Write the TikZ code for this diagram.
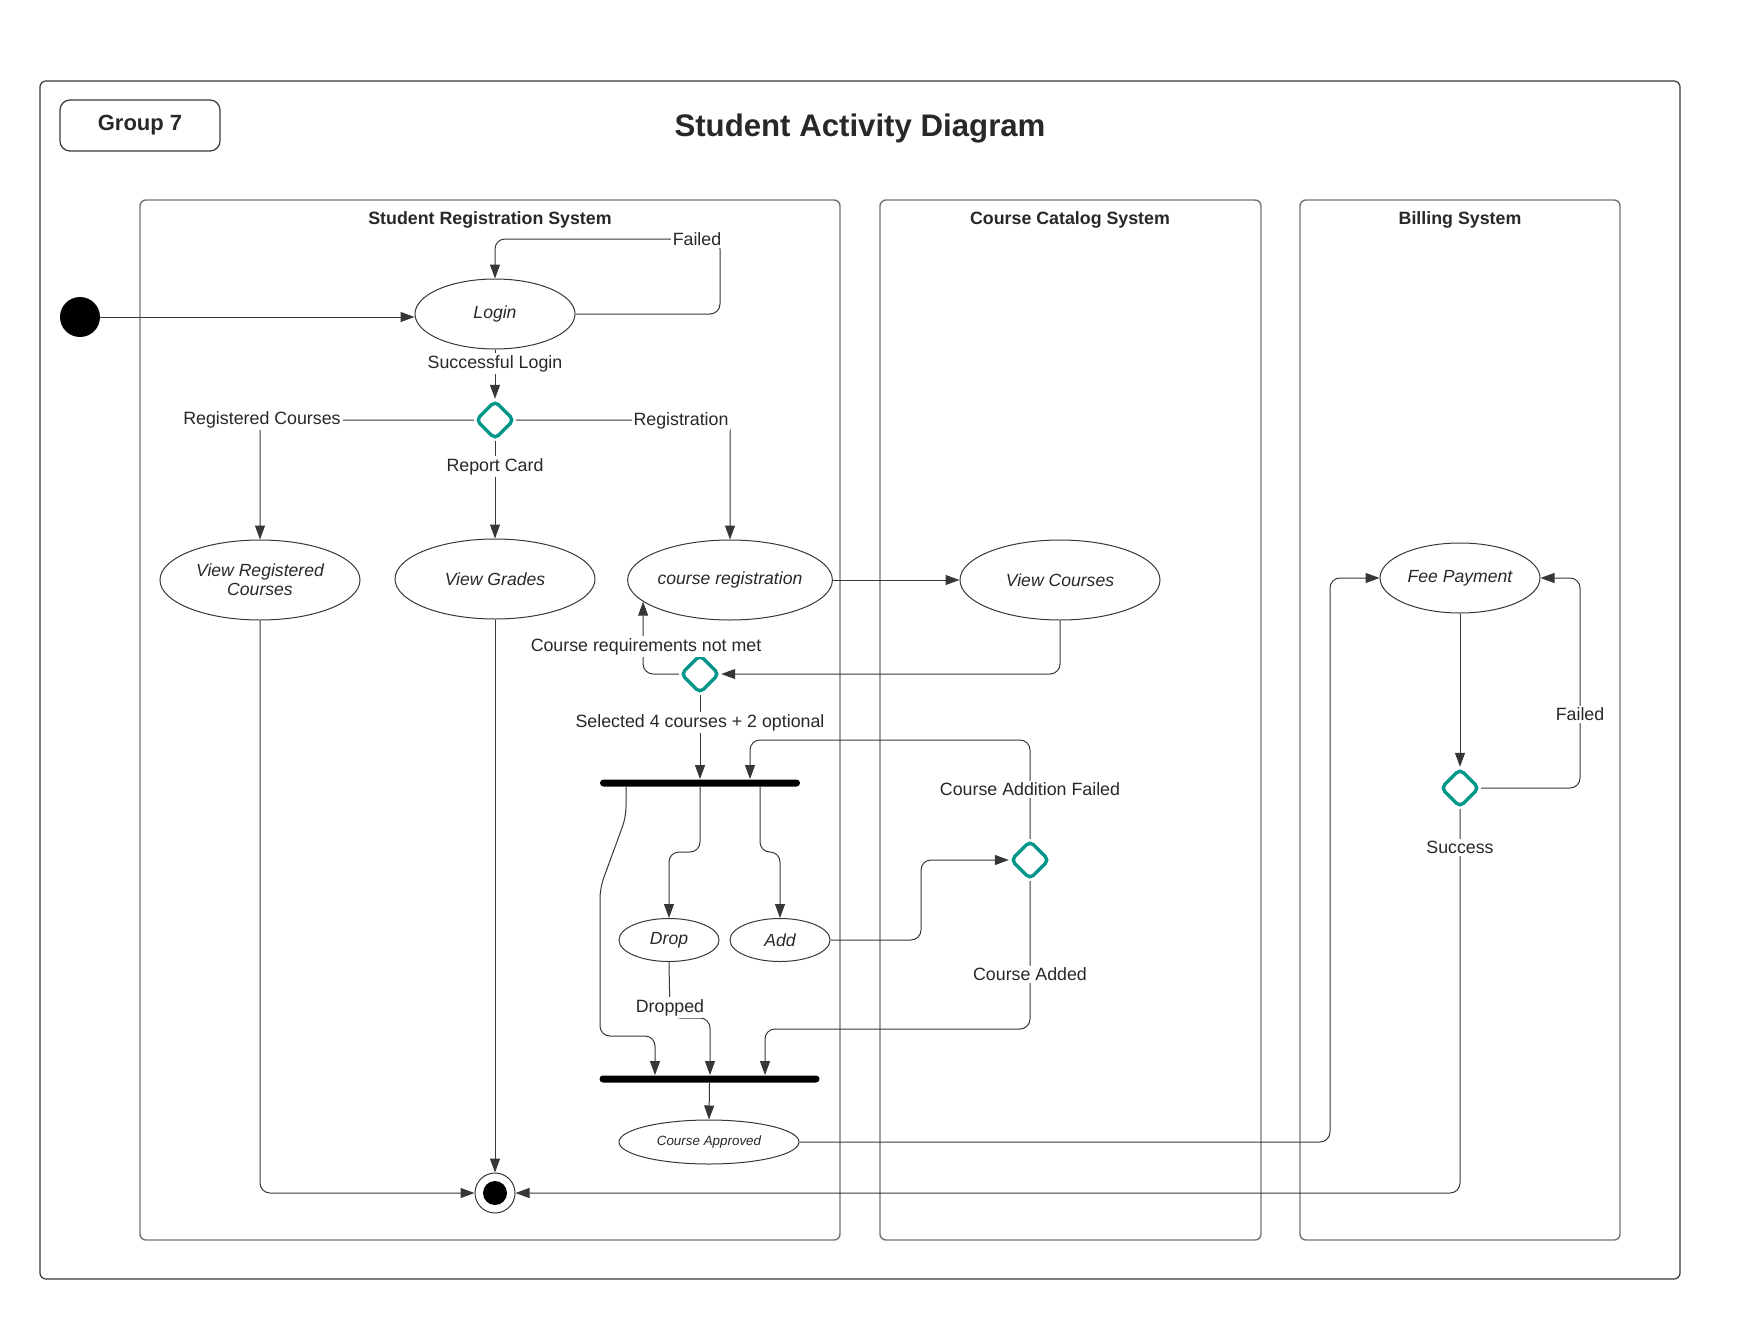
\documentclass[tikz,border=0pt]{standalone}
\usepackage{fontspec}
\setmainfont{Liberation Sans}
\usetikzlibrary{shapes.geometric,arrows.meta,calc}
\definecolor{teal1}{RGB}{0,150,136}
\definecolor{ink}{RGB}{55,55,55}
\definecolor{lanegray}{RGB}{115,115,115}
\definecolor{txt}{RGB}{40,40,40}
\begin{document}
\begin{tikzpicture}[x=0.5pt,y=-0.5pt,
  lane/.style={draw=lanegray,line width=0.7pt,rounded corners=3pt},
  lanetitle/.style={font=\fontsize{8.9}{11}\selectfont\bfseries,text=txt,yshift=-1.6pt},
  act/.style={ellipse,draw=ink,line width=0.5pt,inner sep=0pt,align=center,
    font=\fontsize{8.8}{10.5}\selectfont\itshape,text=txt},
  dec/.style={diamond,draw=teal1,line width=1.7pt,rounded corners=2.5pt,
    minimum size=19.5pt,inner sep=0pt,fill=white},
  bar/.style={rectangle,fill=black,rounded corners=1.75pt,minimum height=3.5pt,inner sep=0pt},
  lbl/.style={fill=white,inner sep=1pt,font=\fontsize{8.9}{10.5}\selectfont,text=txt,yshift=-1.2pt},
  flow/.style={draw=ink,line width=0.5pt,rounded corners=5pt,
    -{Triangle[length=7pt,width=5pt]}},
  link/.style={draw=ink,line width=0.5pt,rounded corners=5pt}]
\useasboundingbox (0,0) rectangle (1740,1333);
% frame
\draw[draw=ink,line width=0.6pt,rounded corners=3pt] (40,81) rectangle (1680,1279);
\node[draw=ink,line width=0.6pt,rounded corners=5pt,minimum width=80pt,minimum height=25.5pt,
  font=\fontsize{11}{13}\selectfont\bfseries,text=txt] (grp) at (140,125.5) {Group 7};
\node[font=\fontsize{15.6}{18}\selectfont\bfseries,text=txt,yshift=-2.2pt] (title) at (860,124) {Student Activity Diagram};
% lanes
\draw[lane] (140,200) rectangle (840,1240);
\draw[lane] (880,200) rectangle (1261,1240);
\draw[lane] (1300,200) rectangle (1620,1240);
\node[lanetitle] (t1) at (490,217) {Student Registration System};
\node[lanetitle] (t2) at (1070,217) {Course Catalog System};
\node[lanetitle] (t3) at (1460,217) {Billing System};
% nodes
\node[circle,fill=black,minimum size=20pt,inner sep=0pt] (init) at (80,317) {};
\node[act,minimum width=80pt,minimum height=35pt] (login) at (495,314) {Login};
\node[dec] (d1) at (495,420) {};
\node[act,minimum width=100pt,minimum height=40pt] (vrc) at (260,580) {View Registered\\[-1pt]Courses};
\node[act,minimum width=100pt,minimum height=40pt] (vg) at (495,579) {View Grades};
\node[act,minimum width=100pt,minimum height=40pt] (creg) at (730,580) {course registration};
\node[act,minimum width=100pt,minimum height=40pt] (vc) at (1060,580) {View Courses};
\node[act,minimum width=80pt,minimum height=35pt] (fee) at (1460,578) {Fee Payment};
\node[dec] (d2) at (700,674) {};
\node[bar,minimum width=100pt] (bar1) at (700,783) {};
\node[dec] (d3) at (1030,860) {};
\node[act,minimum width=50pt,minimum height=21.5pt] (drop) at (669,940) {\raisebox{2pt}{Drop}};
\node[act,minimum width=50pt,minimum height=21.5pt] (add) at (780,940) {Add};
\node[bar,minimum width=110pt] (bar2) at (709.5,1079) {};
\node[act,minimum width=90pt,minimum height=22pt,font=\fontsize{6.7}{8}\selectfont\itshape] (capp) at (709,1142) {Course Approved};
\node[dec] (d4) at (1460,788) {};
\node[circle,draw=ink,line width=0.5pt,fill=white,minimum size=20pt,inner sep=0pt,
  path picture={\fill[black] (path picture bounding box.center) circle (6pt);}] (fin) at (495,1193) {};
% connectors
\draw[flow] (init) -- (login.west |- init);
\coordinate (f1) at (720,239);
\draw[flow] (login.east) -| (f1) -| (login.north);
\draw[flow] (login) -- (d1);
\draw[flow] (d1.west) -| (vrc.north);
\draw[flow] (d1.south) -- (vg.north);
\draw[flow] (d1.east) -| (creg.north);
\draw[flow] (creg.east) -- (vc.west);
\draw[flow] (vc.south) |- (d2.east);
\draw[flow] (d2.west) -| (creg.194.7);
\draw[flow] (d2.south) -- (bar1.north);
\draw[flow] ($(bar1.south)+(0,0)$) -- (700,852) -| (drop.north);
\draw[flow] ($(bar1.south)+(60,0)$) -- (760,852) -| (add.north);
\draw[flow] ($(bar1.south)+(-74,0)$) -- (626,817) -- (600,888) -- (600,1036) -| ($(bar2.north)+(-54.5,0)$);
\draw[flow] (drop.south) -- (670,1018) -| ($(bar2.north)+(0.5,0)$);
\draw[flow] (add.east) -- (921,940) |- (d3.west);
\draw[flow] (d3.north) |- (750,740) -- ($(bar1.north)+(50,0)$);
\draw[flow] (d3.south) |- (765,1029) -- ($(bar2.north)+(55.5,0)$);
\draw[flow] (bar2.south) -- (capp.north);
\draw[flow] (capp.east) -- (1330,1142) |- (fee.west);
\draw[flow] (fee.south) -- (d4.north);
\draw[flow] (d4.east) -- (1580,788) |- (fee.east);
\draw[flow] (d4.south) |- (fin.east);
\draw[flow] (vg.south) -- (fin.north);
\draw[flow] (vrc.south) |- (fin.west);
% labels
\node[lbl] (l1) at (697,237) {Failed};
\node[lbl] (l2) at (495,361) {Successful Login};
\node[lbl] (l3) at (262,417) {Registered Courses};
\node[lbl] (l4) at (681,418) {Registration};
\node[lbl] (l5) at (495,464) {Report Card};
\node[lbl] (l6) at (646,644) {Course requirements not met};
\node[lbl] (l7) at (700,720) {Selected 4 courses + 2 optional};
\node[lbl] (l8) at (1030,787) {Course Addition Failed};
\node[lbl] (l9) at (1030,972) {Course Added};
\node[lbl] (l10) at (670,1005) {Dropped};
\node[lbl] (l11) at (1580,712) {Failed};
\node[lbl] (l12) at (1460,845) {Success};
\end{tikzpicture}
\end{document}
